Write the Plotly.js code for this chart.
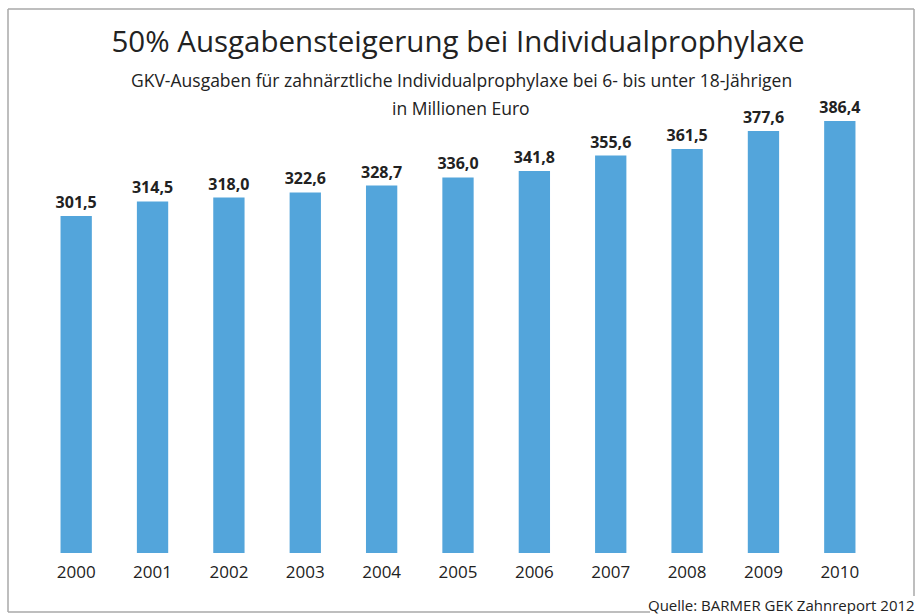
<!DOCTYPE html>
<html>
<head>
<meta charset="utf-8">
<script src="https://cdn.plot.ly/plotly-3.0.1.min.js"></script>
<style>
  html, body { margin: 0; padding: 0; background: #fff; }
  #chart { width: 917px; height: 614px; }
</style>
</head>
<body>
<div id="chart"></div>
<script>
const years = ["2000", "2001", "2002", "2003", "2004", "2005", "2006", "2007", "2008", "2009", "2010"];
const spending = [301.5, 314.5, 318.0, 322.6, 328.7, 336.0, 341.8, 355.6, 361.5, 377.6, 386.4];

const FONT = "Open Sans, Noto Sans, sans-serif";
const TEXT = "#222222";
const FRAME = "#a8a8a8";

// plot area in pixels, used to place the frame in paper units
const plotL = 38, plotR = 878, plotT = 50, plotB = 553;
const px = (x) => (x - plotL) / (plotR - plotL);
const py = (y) => (plotB - y) / (plotB - plotT);

const trace = {
  type: "bar",
  x: years,
  y: spending,
  marker: { color: "#53a5db" },
  texttemplate: "%{y:.1f}",
  textposition: "outside",
  constraintext: "none",
  textfont: { family: FONT, size: 16, color: TEXT, weight: "bold" },
  cliponaxis: false,
  hoverinfo: "skip",
};

const layout = {
  width: 917,
  height: 614,
  separators: ",.",
  margin: { l: plotL, r: 917 - plotR, t: plotT, b: 614 - plotB },
  paper_bgcolor: "#fff",
  plot_bgcolor: "#fff",
  showlegend: false,
  bargap: 0.59,
  font: { family: FONT, color: TEXT },
  title: {
    text: "50% Ausgabensteigerung bei Individualprophylaxe",
    font: { family: FONT, size: 29.5, color: TEXT },
    x: 0.5, xanchor: "center", xref: "paper",
    y: 1 - 42 / 614, yref: "container", yanchor: "middle",
  },
  xaxis: {
    type: "category",
    range: [-0.5, 10.5],
    showgrid: false, zeroline: false, showline: false,
    ticks: "", ticklabelstandoff: 7,
    tickfont: { family: FONT, size: 17, color: TEXT },
  },
  yaxis: {
    range: [0, 450],
    visible: false,
  },
  annotations: [
    {
      text: "GKV-Ausgaben für zahnärztliche Individualprophylaxe bei 6- bis unter 18-Jährigen",
      xref: "paper", yref: "paper", x: px(461), y: py(80), yanchor: "middle",
      showarrow: false, font: { family: FONT, size: 17.5, color: TEXT },
    },
    {
      text: "in Millionen Euro",
      xref: "paper", yref: "paper", x: px(461), y: py(108), yanchor: "middle",
      showarrow: false, font: { family: FONT, size: 17.5, color: TEXT },
    },
    {
      text: "Quelle: BARMER GEK Zahnreport 2012",
      xref: "paper", yref: "paper", x: px(917), y: py(605),
      xanchor: "right", yanchor: "middle", showarrow: false,
      font: { family: FONT, size: 15, color: TEXT },
    },
  ],
  shapes: [
    // frame: left, top, right, and the bottom line that stops at the source text
    { type: "line", xref: "paper", yref: "paper", x0: px(8), y0: py(9), x1: px(8), y1: py(612), line: { color: FRAME, width: 1.5 } },
    { type: "line", xref: "paper", yref: "paper", x0: px(8), y0: py(9), x1: px(914), y1: py(9), line: { color: FRAME, width: 1.5 } },
    { type: "line", xref: "paper", yref: "paper", x0: px(914), y0: py(9), x1: px(914), y1: py(596), line: { color: FRAME, width: 1.5 } },
    { type: "line", xref: "paper", yref: "paper", x0: px(8), y0: py(612), x1: px(650), y1: py(612), line: { color: FRAME, width: 1.5 } },
  ],
};

Plotly.newPlot("chart", [trace], layout, { displayModeBar: false, staticPlot: true });
</script>
</body>
</html>
